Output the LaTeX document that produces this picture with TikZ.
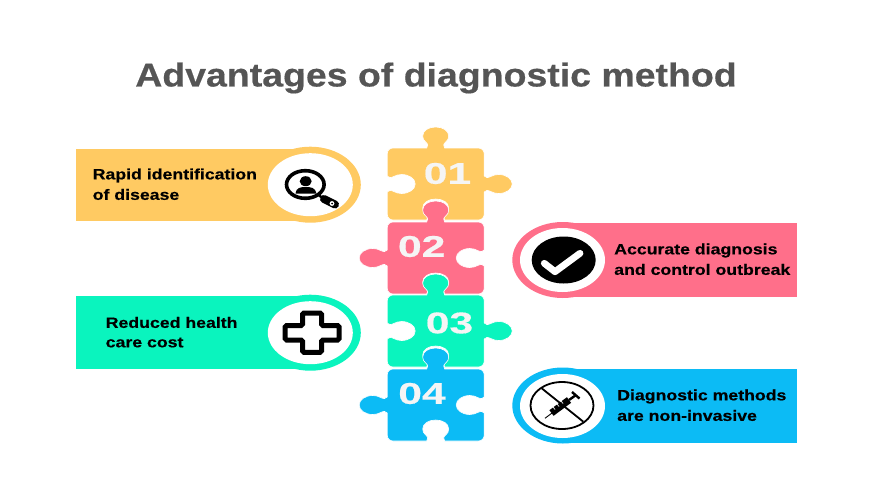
\documentclass[tikz,border=0pt]{standalone}
\usepackage{fontspec}
\setmainfont[BoldFeatures={FakeBold=0.4}]{Liberation Sans}
\definecolor{cyel}{HTML}{FFCA62}
\definecolor{cpnk}{HTML}{FF6F8A}
\definecolor{cgrn}{HTML}{0AF4BE}
\definecolor{cblu}{HTML}{0CBBF5}
\definecolor{ctit}{HTML}{555555}
\definecolor{cnum}{HTML}{F5F5F5}
\tikzset{
  band/.style={fill=#1,draw=none},
  lbl/.style={anchor=west,font=\fontsize{15}{15}\selectfont\bfseries,text=black,inner sep=0pt,xscale=1.18},
  numtxt/.style={font=\fontsize{30}{30}\selectfont\bfseries,text=cnum,inner sep=0pt,xscale=1.42},
  titletxt/.style={font=\fontsize{33}{33}\selectfont\bfseries,text=ctit,inner sep=0pt,xscale=1.135},
  piece/.style={fill=#1,draw=white,line width=0.6pt},
  icon/.style={draw=black,line width=#1}
}
\newcommand\piecepath{
  (-42.5,-36) -- (-9,-36)
  .. controls (-7.5,-38) and (-7.5,-40) .. (-10,-42)
  .. controls (-12,-43.5) and (-13,-45.5) .. (-13,-48)
  .. controls (-13,-53.5) and (-7,-57) .. (0,-57)
  .. controls (7,-57) and (13,-53.5) .. (13,-48)
  .. controls (13,-45.5) and (12,-43.5) .. (10,-42)
  .. controls (7.5,-40) and (7.5,-38) .. (9,-36)
  -- (42.5,-36) .. controls (46,-36) and (48.5,-33.5) .. (48.5,-30)
  -- (48.5,-8)
  .. controls (50,-6) and (52,-6) .. (55,-7.5)
  .. controls (57.5,-8.8) and (60,-9.5) .. (63,-9.5)
  .. controls (70.5,-9.5) and (76.5,-5.2) .. (76.5,0)
  .. controls (76.5,5.2) and (70.5,9.5) .. (63,9.5)
  .. controls (60,9.5) and (57.5,8.8) .. (55,7.5)
  .. controls (52,6) and (50,6) .. (48.5,8)
  -- (48.5,30) .. controls (48.5,33.5) and (46,36) .. (42.5,36)
  -- (9,36)
  .. controls (7.5,34) and (7.5,32) .. (10,30)
  .. controls (12,28.5) and (13,26.5) .. (13,24)
  .. controls (13,18.5) and (7,15) .. (0,15)
  .. controls (-7,15) and (-13,18.5) .. (-13,24)
  .. controls (-13,26.5) and (-12,28.5) .. (-10,30)
  .. controls (-7.5,32) and (-7.5,34) .. (-9,36)
  -- (-42.5,36) .. controls (-46,36) and (-48.5,33.5) .. (-48.5,30)
  -- (-48.5,8)
  .. controls (-47,6) and (-45,6) .. (-42,7.5)
  .. controls (-39.5,8.8) and (-37,9.5) .. (-34,9.5)
  .. controls (-26.5,9.5) and (-20.5,5.2) .. (-20.5,0)
  .. controls (-20.5,-5.2) and (-26.5,-9.5) .. (-34,-9.5)
  .. controls (-37,-9.5) and (-39.5,-8.8) .. (-42,-7.5)
  .. controls (-45,-6) and (-47,-6) .. (-48.5,-8)
  -- (-48.5,-30) .. controls (-48.5,-33.5) and (-46,-36) .. (-42.5,-36) -- cycle
}
\begin{document}
\begin{tikzpicture}[x=1pt,y=-1pt]
\useasboundingbox (0,0) rectangle (872,490);
\fill[white] (0,0) rectangle (872,490);
\node[titletxt] (title) at (436,78) {Advantages of diagnostic method};
% bands and rings
\fill[band=cyel] (76,149) rectangle (310,221);
\fill[cyel] (310.3,184.7) ellipse [x radius=50.5,y radius=38];
\fill[white] (310.3,184.7) ellipse [x radius=42.5,y radius=31.5];
\fill[band=cpnk] (563,223) rectangle (797,297);
\fill[cpnk] (562.8,260) ellipse [x radius=50.5,y radius=38];
\fill[white] (562.5,260) ellipse [x radius=42.5,y radius=32];
\fill[band=cgrn] (76,296) rectangle (310,369);
\fill[cgrn] (310.3,332.7) ellipse [x radius=50.5,y radius=38];
\fill[white] (310.3,332.7) ellipse [x radius=42.5,y radius=31.5];
\fill[band=cblu] (563,369) rectangle (797,443);
\fill[cblu] (562.8,405.5) ellipse [x radius=50.5,y radius=38];
\fill[white] (562.5,406) ellipse [x radius=42.5,y radius=32];
% puzzle
\begin{scope}[shift={(435.7,184)}]\path[piece=cyel] \piecepath;\end{scope}
\begin{scope}[shift={(435.7,258)},xscale=-1]\path[piece=cpnk] \piecepath;\end{scope}
\begin{scope}[shift={(435.7,331)}]\path[piece=cgrn] \piecepath;\end{scope}
\begin{scope}[shift={(435.7,405)},xscale=-1]\path[piece=cblu] \piecepath;\end{scope}
\node[numtxt] (n1) at (447.5,173.5) {01};
\node[numtxt] (n2) at (421.7,246.5) {02};
\node[numtxt] (n3) at (449.5,323) {03};
\node[numtxt] (n4) at (422,393.5) {04};
% labels
\node[lbl] (a1) at (92.5,175.5) {Rapid identification};
\node[lbl] (a2) at (92.5,194.5) {of disease};
\node[lbl] (b1) at (614,250.5) {Accurate diagnosis};
\node[lbl] (b2) at (614,269.5) {and control outbreak};
\node[lbl] (c1) at (105.5,322.5) {Reduced health};
\node[lbl] (c2) at (105.5,342.5) {care cost};
\node[lbl] (d1) at (617,396.5) {Diagnostic methods};
\node[lbl] (d2) at (617,415.5) {are non-invasive};
% magnifier
\draw[icon=3.6pt] (305.3,184.5) ellipse [x radius=18.8,y radius=13.8];
\fill[black] (305.7,181.2) ellipse [x radius=6,y radius=5];
\fill[black] (295.5,193.5) .. controls (296,187.5) and (301,187) .. (305.7,187) .. controls (310.5,187) and (315.5,187.5) .. (316.5,193.5) -- cycle;
\draw[line width=2.4pt,black] (319,195.5) -- (324,198.5);
\draw[line width=8pt,line cap=round,black] (324,199) -- (335,204.5);
\fill[white] (332,203.5) circle (2.4);
\fill[black] (332,203.5) circle (1);
% tick
\fill[black] (563.7,260) ellipse [x radius=32,y radius=23.5];
\draw[white,line width=6.8pt,line cap=round,line join=round] (544.3,263.3) -- (555,271.7) -- (580,253.3);
% cross
\draw[icon=5pt,fill=white,rounded corners=1.5pt] (302.5,313) -- (321.5,313) -- (321.5,325.5) -- (339.2,325.5) -- (339.2,340) -- (321.5,340) -- (321.5,352.3) -- (302.5,352.3) -- (302.5,340) -- (285.2,340) -- (285.2,325.5) -- (302.5,325.5) -- cycle;
% syringe
\draw[icon=1.8pt] (562,405.5) ellipse [x radius=31.5,y radius=23.5];
\draw[icon=1.8pt] (541.7,388.3) -- (583.3,421.7);
\draw[black,line width=.9pt] (545,418.3) -- (552,413);
\draw[black,line width=7pt] (551.5,413) -- (569,400);
\draw[black,line width=2.4pt] (569,400) -- (576,395);
\draw[black,line width=2.4pt] (572,392) -- (579.5,398.5);
\draw[white,line width=.7pt] (555,409.5) -- (553,407) (559,406.5) -- (557,404) (563,403.5) -- (561,401);
\end{tikzpicture}
\end{document}
